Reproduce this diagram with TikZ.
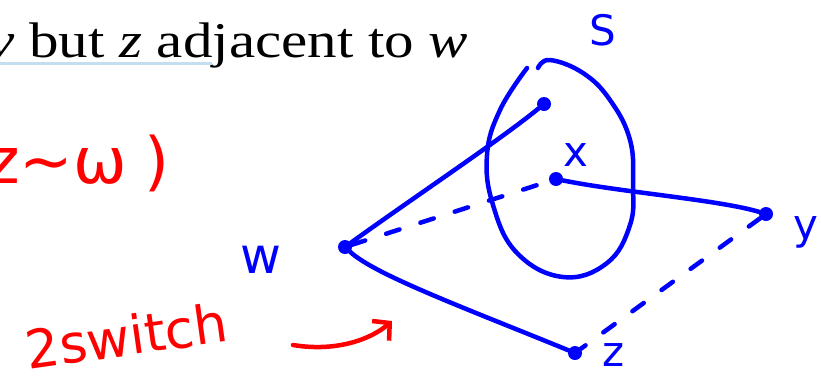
\documentclass[tikz,border=0pt]{standalone}
\usepackage{fontspec}
\setmainfont{Liberation Serif}
\newfontfamily\handfont{DejaVu Sans}
\usetikzlibrary{positioning, arrows.meta}
\definecolor{linkline}{RGB}{196,222,240}

\begin{document}
\begin{tikzpicture}[x=1pt, y=-1pt,
  every node/.style={inner sep=0pt},
  pen/.style={blue, line width=4.5pt, line cap=round, line join=round},
  dashpen/.style={pen, dash pattern=on 14pt off 22pt},
  redpen/.style={red, line width=4.5pt, line cap=round, line join=round},
  dot/.style={circle, fill=blue, minimum size=14pt},
  hand/.style={font=\handfont\fontsize{42}{42}\selectfont, text=blue},
  note/.style={font=\handfont\fontsize{53}{53}\selectfont, text=red}]
\useasboundingbox (0,0) rectangle (821,381);

% heading line
\node[anchor=base west, font=\fontsize{50}{54}\selectfont] (head) at (-12,57)
  {\scalebox{1.18}[1]{\textit{v} but \textit{z} adjacent to \textit{w}}};
\draw[linkline, line width=3pt] (0,63) -- (212,63);

% red notes
\node[note, anchor=west, font=\handfont\fontsize{64}{64}\selectfont] (rel)
  at (-14,163) {z∼ω\;)};
\node[note, anchor=west, rotate=8] (swap) at (26,350) {2switch};
\coordinate (arrS) at (293,345);
\coordinate (arrE) at (392,321);
\draw[redpen, -{Straight Barb[length=12pt, width=26pt]}]
  (arrS) .. controls (335,352) and (370,340) .. (arrE);

% vertices
\node[dot] (w) at (345,247) {};
\node[dot] (top) at (544,104) {};
\node[dot] (x) at (556,179) {};
\node[dot] (y) at (766,214) {};
\node[dot] (z) at (575,353) {};

% the set S
\draw[pen] plot[smooth, tension=0.7] coordinates {(527,68) (500,110) (487,155)
  (493,205) (517,253) (563,277) (607,263) (630,225) (633,185) (630,140)
  (610,100) (583,73) (550,60) (538,68)};

% labels
\node[hand, font=\handfont\fontsize{50}{50}\selectfont] (wlab) at (261,260) {w};
\node[hand] (slab) at (603,30) {S};
\node[hand] (xlab) at (576,155) {x};
\node[hand] (ylab) at (806,232) {y};
\node[hand] (zlab) at (614,355) {z};

% edges
\draw[pen] (w) .. controls (410,200) and (500,140) .. (top);
\draw[pen] (w) .. controls (375,275) and (470,310) .. (z);
\draw[pen] (x) .. controls (620,192) and (720,200) .. (y);
\draw[dashpen] (w) -- (x);
\draw[dashpen] (y) -- (z);
\end{tikzpicture}
\end{document}
